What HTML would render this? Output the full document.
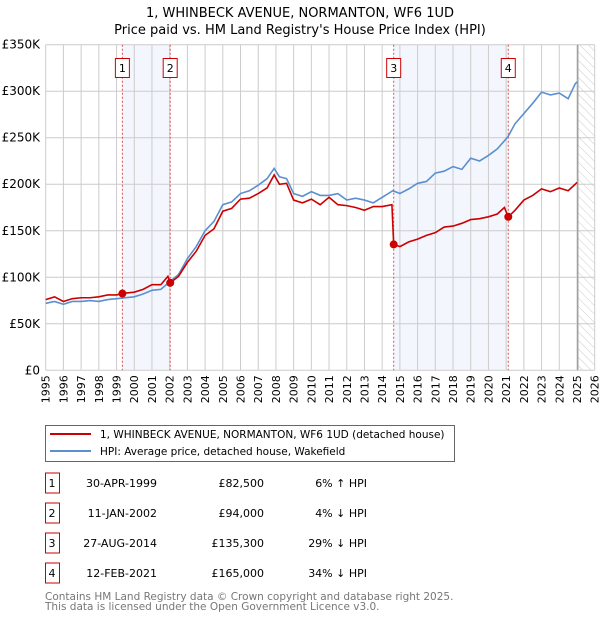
<!DOCTYPE html>
<html><head><meta charset="utf-8"><style>
body{margin:0;background:#fff;font-family:"DejaVu Sans","Liberation Sans",sans-serif;}
svg text{font-family:"DejaVu Sans","Liberation Sans",sans-serif;}
</style></head><body>
<svg id="chart" width="600" height="620" viewBox="0 0 600 620" xmlns="http://www.w3.org/2000/svg">
<defs><pattern id="hatch" width="6" height="6" patternUnits="userSpaceOnUse" patternTransform="rotate(-45)"><line x1="0" y1="0" x2="0" y2="6" stroke="#ccc" stroke-width="1"/></pattern></defs>
<text x="300" y="17" text-anchor="middle" font-size="13">1, WHINBECK AVENUE, NORMANTON, WF6 1UD</text>
<text x="300" y="34" text-anchor="middle" font-size="13">Price paid vs. HM Land Registry's House Price Index (HPI)</text>
<g id="plot"></g>
<g>
<rect x="45.5" y="425.5" width="409" height="36" fill="#fff" stroke="#666"/>
<line x1="50" y1="434" x2="91" y2="434" stroke="#cc0000" stroke-width="2"/>
<text x="100" y="438" font-size="10.5">1, WHINBECK AVENUE, NORMANTON, WF6 1UD (detached house)</text>
<line x1="50" y1="451" x2="91" y2="451" stroke="#5b8fd0" stroke-width="2"/>
<text x="100" y="455" font-size="10.5">HPI: Average price, detached house, Wakefield</text>
</g>
<g id="table" font-size="11"></g>
<text x="45" y="600" font-size="10.5" fill="#777">Contains HM Land Registry data © Crown copyright and database right 2025.</text>
<text x="45" y="610" font-size="10.5" fill="#777">This data is licensed under the Open Government Licence v3.0.</text>
</svg>
<script>
const yearTicks=[1995,1996,1997,1998,1999,2000,2001,2002,2003,2004,2005,2006,2007,2008,2009,2010,2011,2012,2013,2014,2015,2016,2017,2018,2019,2020,2021,2022,2023,2024,2025,2026];
const priceTicks=[0,50,100,150,200,250,300,350];
const priceTickLabels=["£0","£50K","£100K","£150K","£200K","£250K","£300K","£350K"];
const hpiYears=[1995,1995.5,1996,1996.5,1997,1997.5,1998,1998.5,1999,1999.5,2000,2000.5,2001,2001.5,2002,2002.5,2003,2003.5,2004,2004.5,2005,2005.5,2006,2006.5,2007,2007.5,2007.9,2008.2,2008.6,2009,2009.5,2010,2010.5,2011,2011.5,2012,2012.5,2013,2013.5,2014,2014.6,2015,2015.5,2016,2016.5,2017,2017.5,2018,2018.5,2019,2019.5,2020,2020.5,2021.1,2021.5,2022,2022.5,2023,2023.5,2024,2024.5,2024.9,2025];
const hpiValues=[72,74,71,74,74,75,74,76,77,78,79,82,86,87,95,103,120,133,150,160,178,181,190,193,199,206,217,208,206,190,187,192,188,188,190,183,185,183,180,186,193,190,195,201,203,212,214,219,216,228,225,231,238,251,265,276,287,299,296,298,292,308,310];
const redYears=[1995,1995.5,1996,1996.5,1997,1997.5,1998,1998.5,1999,1999.33,1999.5,2000,2000.5,2001,2001.5,2001.9,2002.03,2002.5,2003,2003.5,2004,2004.5,2005,2005.5,2006,2006.5,2007,2007.5,2007.9,2008.2,2008.6,2009,2009.5,2010,2010.5,2011,2011.5,2012,2012.5,2013,2013.5,2014,2014.55,2014.65,2015,2015.5,2016,2016.5,2017,2017.5,2018,2018.5,2019,2019.5,2020,2020.5,2020.9,2021.12,2021.5,2022,2022.5,2023,2023.5,2024,2024.5,2024.9,2025];
const redValues=[76,79,74,77,78,78,79,81,81,82.5,83,84,87,92,92,101,94,101,116,128,145,152,171,174,184,185,190,196,210,200,201,183,180,184,178,186,178,177,175,172,176,176,178,135.3,133,138,141,145,148,154,155,158,162,163,165,168,175,165,172,183,188,195,192,196,193,200,202];
const saleLabels=["1","2","3","4"];
const saleYears=[1999.33,2002.03,2014.65,2021.12];
const salePrices=[82.5,94,135.3,165];
const saleDates=["30-APR-1999","11-JAN-2002","27-AUG-2014","12-FEB-2021"];
const salePriceText=["£82,500","£94,000","£135,300","£165,000"];
const saleHpiText=["6% ↑ HPI","4% ↓ HPI","29% ↓ HPI","34% ↓ HPI"];
const dataEnd=2025.05;

const X0=45.7,X1=594.7,Y0=370.3,Y1=44.7;
const x=v=>X0+(v-1995)/(2026-1995)*(X1-X0);
const y=v=>Y0-v/350*(Y0-Y1);
const NS="http://www.w3.org/2000/svg";
const plot=document.getElementById('plot');
function mk(tag,attrs,parent){const e=document.createElementNS(NS,tag);for(const k in attrs)e.setAttribute(k,attrs[k]);(parent||plot).appendChild(e);return e;}

for(let i=0;i<saleYears.length;i+=2){
  const r=mk('rect',{x:x(saleYears[i]),y:Y1,width:x(saleYears[i+1])-x(saleYears[i]),height:Y0-Y1,fill:'#f3f6fd'});
  
  
}
const h=mk('rect',{x:x(dataEnd),y:Y1,width:X1-x(dataEnd),height:Y0-Y1,fill:'url(#hatch)'});


yearTicks.forEach(t=>{
  const l=mk('line',{x1:x(t),x2:x(t),y1:Y1,y2:Y0,stroke:'#ccc','stroke-width':1});
  
  
  const tx=mk('text',{x:0,y:0,'font-size':11,'text-anchor':'end',transform:`translate(${x(t)+4},${Y0+5}) rotate(-90)`});
  tx.textContent=t;
  
  
});
priceTicks.forEach((t,i)=>{
  const l=mk('line',{x1:X0,x2:X1,y1:y(t),y2:y(t),stroke:'#ccc','stroke-width':1});
  
  
  const tx=mk('text',{x:40,y:y(t)+4,'font-size':12,'text-anchor':'end'});
  tx.textContent=priceTickLabels[i];
  
  
});
const de=mk('line',{x1:x(dataEnd),x2:x(dataEnd),y1:Y1,y2:Y0,stroke:'#888','stroke-width':1});


saleYears.forEach((s,i)=>{
  const l=mk('line',{x1:x(s),x2:x(s),y1:Y1,y2:Y0,stroke:'#e05050','stroke-width':1,'stroke-dasharray':'2,2'});
  
  
  const b=mk('rect',{x:x(s)-7,y:58.5,width:14,height:19,fill:'#fff',stroke:'#cc0000'});
  
  
  const t=mk('text',{x:x(s),y:72,'font-size':11,'text-anchor':'middle'});
  t.textContent=saleLabels[i];
  
  
});
const hp=mk('polyline',{points:hpiYears.map((v,i)=>x(v)+','+y(hpiValues[i])).join(' '),fill:'none',stroke:'#5b8fd0','stroke-width':1.6});


const rp=mk('polyline',{points:redYears.map((v,i)=>x(v)+','+y(redValues[i])).join(' '),fill:'none',stroke:'#cc0000','stroke-width':1.6});


saleYears.forEach((s,i)=>{
  const c=mk('circle',{cx:x(s),cy:y(salePrices[i]),r:4,fill:'#cc0000'});
  
  
});
const tb=document.getElementById('table');
saleYears.forEach((s,i)=>{
  const cy=483+i*30;
  const b=mk('rect',{x:45.5,y:cy-10,width:14,height:20,fill:'#fff',stroke:'#cc0000'},tb);
  
  
  const cells=[[52,saleLabels[i],'middle'],[157,saleDates[i],'end'],[264,salePriceText[i],'end'],[367,saleHpiText[i],'end']];
  cells.forEach(c=>{
    const t=mk('text',{x:c[0],y:cy+4,'text-anchor':c[2]},tb);
    t.textContent=c[1];
    
    
  });
});
</script>
</body></html>
